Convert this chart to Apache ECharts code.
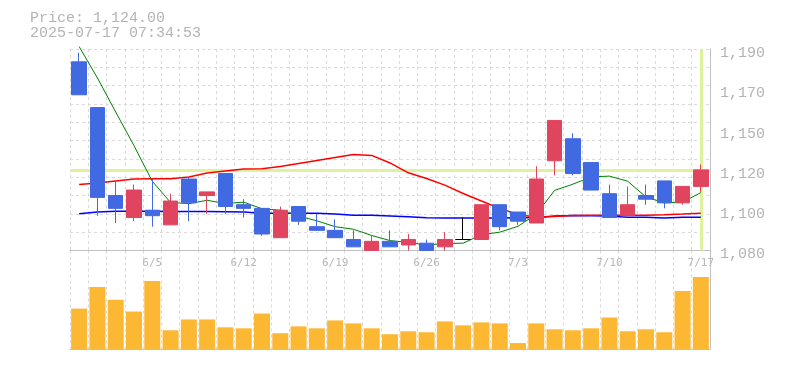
<!DOCTYPE html>
<html><head><meta charset="utf-8">
<script src="https://cdn.jsdelivr.net/npm/echarts@6/dist/echarts.min.js"></script>
<style>html,body{margin:0;padding:0;background:#fff}#c{width:785px;height:370px}</style>
</head><body><div id="c"></div>
<script>
// ---- data ----
const dates = ['5/30','6/2','6/3','6/4','6/5','6/6','6/9','6/10','6/11','6/12','6/13','6/16','6/17','6/18','6/19','6/20','6/23','6/24','6/25','6/26','6/27','6/30','7/1','7/2','7/3','7/4','7/7','7/8','7/9','7/10','7/11','7/14','7/15','7/16','7/17'];
const opens  = [1183,1158,1110,1098,1102,1094,1119,1110,1122,1105,1103,1087,1104,1093,1091,1086,1080,1085,1083,1084,1082,1086,1086,1105,1101,1095,1129,1141,1128,1111,1099,1110,1118,1106,1115];
const closes = [1165,1109,1103,1113,1099,1107,1106,1112,1104,1103,1089,1102,1096,1091,1087,1082,1085,1082,1086,1080,1086,1086,1105,1093,1096,1119,1151,1122,1113,1098,1105,1108,1106,1115,1124];
const lows   = [1165,1099,1095,1096,1093,1094,1096,1100,1100,1098,1088,1087,1094,1091,1087,1082,1080,1082,1080,1080,1080,1086,1086,1091,1094,1095,1121,1121,1113,1098,1099,1105,1103,1105,1112];
const highs  = [1188,1158,1118,1116,1119,1111,1120,1112,1122,1108,1103,1104,1104,1100,1097,1091,1088,1091,1089,1086,1090,1098,1105,1105,1101,1126,1151,1144,1128,1116,1115,1116,1118,1115,1127];
const volumes = [41,63,50,38,69,19,30,30,22,21,36,16,23,21,29,26,21,15,18,17,28,24,27,26,6,26,20,19,21,32,18,20,17,59,73];
const ma5  = [1191.3,1174.2,1155.6,1137.2,1117.8,1106.2,1105.6,1107.4,1105.6,1106.4,1102.8,1102,1098.8,1096.2,1093,1091.6,1088.2,1085.4,1084.4,1083,1083.8,1084,1088.6,1090,1093.2,1099.8,1112.8,1116.2,1120.2,1120.6,1117.8,1109.2,1106,1106.4,1111.6];
const ma25 = [1116,1116.8,1118,1119,1119.2,1119.2,1120.1,1122.3,1123.4,1124.5,1124.6,1125.8,1127.5,1129.1,1130.8,1132.4,1131.9,1127.8,1122.4,1119.3,1115.7,1111.1,1107,1103,1099.7,1098.2,1098.6,1099.1,1099.3,1099.3,1099.3,1099.3,1099.5,1099.9,1100.4];
const ma75 = [1100,1101,1101.4,1101.4,1101.4,1101.3,1101.3,1101.3,1101.2,1101,1100.4,1100.4,1100.4,1100.4,1099.9,1099.3,1099.3,1098.9,1098.4,1097.9,1097.7,1097.7,1097.7,1097.7,1097.9,1098,1098.8,1099.1,1099,1098.8,1098.2,1098.2,1097.7,1098.2,1098.2];
const priceText = 'Price: 1,124.00';
const timeText = '2025-07-17 07:34:53';
const lastPrice = 1124;
const lastDate = '7/17';
const priceMin = 1080, priceMax = 1190, gridStep = 10, labelStep = 22;
const volMax = 100;

// ---- styles ----
const UP = '#e0445e', DOWN = '#4169e1', DOJI = '#000000';
const GRIDC = '#dadada', AXISC = '#c0c0c0', TXT = '#b4b4b4';
const MONO = '"Liberation Mono", "DejaVu Sans Mono", monospace';

const candleData = dates.map((d, i) => {
  const v = [opens[i], closes[i], lows[i], highs[i]];
  if (opens[i] === closes[i]) {
    return { value: v, itemStyle: { color: DOJI, color0: DOJI, borderColor: DOJI, borderColor0: DOJI, borderColorDoji: DOJI } };
  }
  return v;
});

const chart = echarts.init(document.getElementById('c'), null, { renderer: 'canvas' });
const dash = { color: GRIDC, type: [3, 3], width: 1 };
chart.setOption({
  animation: false,
  backgroundColor: '#fff',
  graphic: [
    { type: 'text', x: 30, y: 18, style: { text: priceText, fill: TXT, font: '15px ' + MONO, verticalAlign: 'middle' } },
    { type: 'text', x: 30, y: 33.3, style: { text: timeText, fill: TXT, font: '15px ' + MONO, verticalAlign: 'middle' } }
  ],
  grid: [
    { left: 70, right: 75, top: 49, height: 201.5, outerBoundsMode: 'none', containLabel: false },
    { left: 70, right: 75, top: 250.5, height: 98.5, outerBoundsMode: 'none', containLabel: false }
  ],
  xAxis: [
    {
      type: 'category', gridIndex: 0, data: dates, boundaryGap: true,
      axisLine: { show: true, lineStyle: { color: AXISC, width: 1 } },
      axisTick: { show: false },
      axisLabel: { interval: (idx) => idx % 5 === 4, color: '#b8b8b8', fontFamily: '"DejaVu Sans Mono", monospace', fontSize: 11, margin: 7 },
      splitLine: { show: true, interval: 0, lineStyle: dash }
    },
    {
      type: 'category', gridIndex: 1, data: dates, boundaryGap: true,
      axisLine: { show: true, lineStyle: { color: AXISC, width: 1 } },
      axisTick: { show: false }, axisLabel: { show: false },
      splitLine: { show: true, interval: 0, lineStyle: dash }
    }
  ],
  yAxis: [
    {
      type: 'value', gridIndex: 0, position: 'right', min: priceMin, max: priceMax, interval: gridStep,
      axisLine: { show: true, lineStyle: { color: AXISC, width: 1 } },
      axisTick: { show: false }, axisLabel: { show: false },
      splitLine: { show: true, lineStyle: dash }
    },
    {
      type: 'value', gridIndex: 0, position: 'right', min: priceMin, max: priceMax, interval: labelStep,
      axisLine: { show: false }, axisTick: { show: false }, splitLine: { show: false },
      axisLabel: {
        color: TXT, fontFamily: MONO, fontSize: 15, margin: 10, verticalAlign: 'top', lineHeight: 8,
        formatter: (v) => (Math.round(v / 10) * 10).toLocaleString('en-US')
      }
    },
    {
      type: 'value', gridIndex: 1, position: 'right', min: 0, max: volMax,
      axisLine: { show: true, lineStyle: { color: AXISC, width: 1 } },
      axisTick: { show: false }, axisLabel: { show: false }, splitLine: { show: false }
    }
  ],
  series: [
    {
      type: 'candlestick', xAxisIndex: 0, yAxisIndex: 0, z: 3, barWidth: 15,
      data: candleData,
      itemStyle: { color: UP, color0: DOWN, borderColor: UP, borderColor0: DOWN, borderColorDoji: DOJI, borderWidth: 1 },
      markLine: {
        silent: true, symbol: ['none', 'none'], z: 1, animation: false,
        label: { show: false },
        lineStyle: { color: '#def29e', width: 3, type: 'solid', opacity: 1 },
        emphasis: { disabled: true },
        data: [{ yAxis: lastPrice }, { xAxis: lastDate }]
      }
    },
    { type: 'line', xAxisIndex: 0, yAxisIndex: 0, z: 2, data: ma75, symbol: 'none', clip: false, lineStyle: { color: '#0000ff', width: 1.5 } },
    { type: 'line', xAxisIndex: 0, yAxisIndex: 0, z: 2, data: ma25, symbol: 'none', clip: false, lineStyle: { color: '#ff0000', width: 1.5 } },
    { type: 'line', xAxisIndex: 0, yAxisIndex: 0, z: 2, data: ma5, symbol: 'none', clip: false, lineStyle: { color: '#008000', width: 1 } },
    { type: 'bar', xAxisIndex: 1, yAxisIndex: 2, data: volumes, barWidth: 16, itemStyle: { color: '#fcb733' } }
  ]
});
</script></body></html>
